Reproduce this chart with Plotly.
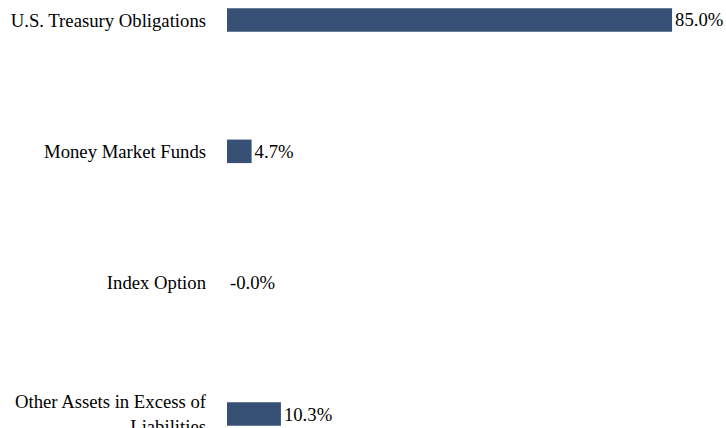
import plotly.graph_objects as go

categories = ["U.S. Treasury Obligations", "Money Market Funds", "Index Option",
              "Other Assets in Excess of<br>Liabilities"]
values = [85.0, 4.7, -0.0, 10.3]
labels = ["85.0%", "4.7%", "-0.0%", "10.3%"]

FONT = '"Liberation Serif", "Times New Roman", Times, serif'

fig = go.Figure(go.Bar(
    y=categories, x=values, orientation="h",
    marker=dict(color="#375176", line=dict(width=0)),
    width=0.179,
    text=labels, textposition="outside", cliponaxis=False, constraintext="none",
    textfont=dict(family=FONT, size=18.7, color="#000000"),
    hoverinfo="skip",
))

fig.update_layout(
    template="none",
    width=726, height=428,
    margin=dict(l=227, r=0, t=0, b=0, autoexpand=False),
    paper_bgcolor="white", plot_bgcolor="white",
    showlegend=False,
    font=dict(family=FONT, size=18.7, color="#000000"),
    xaxis=dict(range=[0, 95.3], visible=False, showgrid=False, zeroline=False,
               automargin=False),
    yaxis=dict(type="category", range=[3.106, -0.152], showgrid=False, zeroline=False,
               showline=False, ticks="", ticklabelstandoff=20, automargin=False,
               tickfont=dict(family=FONT, size=18.7, color="#000000")),
)

fig.write_html("out.html")
